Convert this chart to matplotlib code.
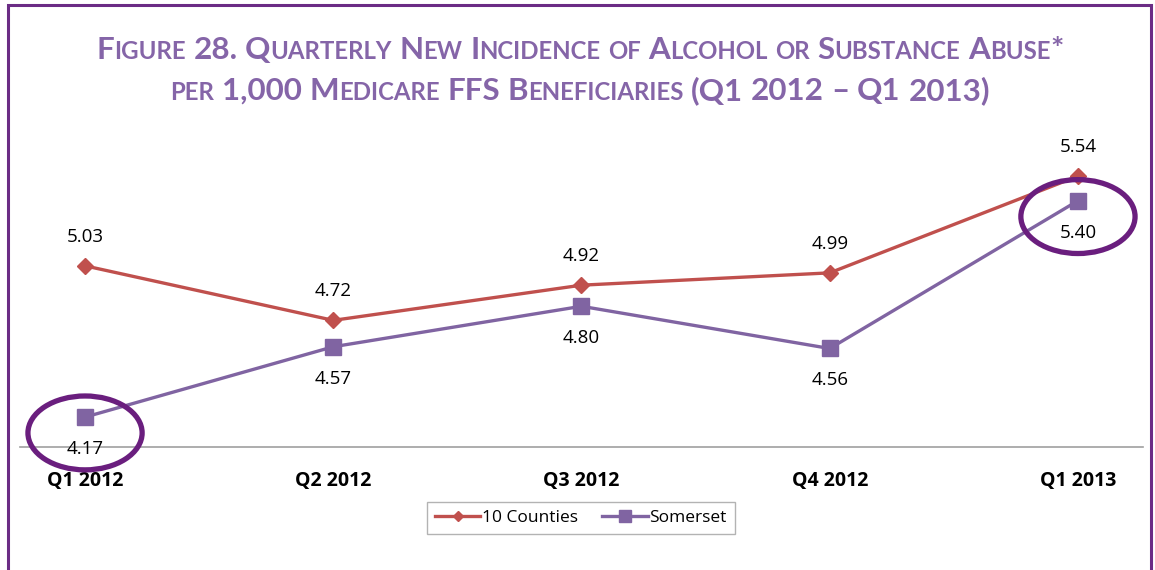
import numpy as np
import matplotlib.pyplot as plt
from matplotlib.patches import Ellipse, Rectangle

quarters = ['Q1 2012', 'Q2 2012', 'Q3 2012', 'Q4 2012', 'Q1 2013']
counties = [5.03, 4.72, 4.92, 4.99, 5.54]
somerset = [4.17, 4.57, 4.80, 4.56, 5.40]
circled = [0, 4]  # Somerset points that are ringed
title_lines = ['Figure 28. Quarterly New Incidence of Alcohol or Substance Abuse*',
               'per 1,000 Medicare FFS Beneficiaries (Q1 2012 \u2013 Q1 2013)']

RED = '#C0504D'
PURPLE = '#8064A2'
RING = '#6A1E7E'
TITLE = '#8565A8'
W, H = 1155, 570
TFONT = ['Lato', 'DejaVu Sans']
NFONT = ['Open Sans', 'DejaVu Sans']


def small_caps(fig, text, base_y, big, small, cx):
    # draw a line of text in small caps, segment by segment, centred on cx
    r = fig.canvas.get_renderer()

    def width(s, size):
        t = fig.text(0, 0, s, fontsize=size, fontweight='bold', family=TFONT)
        w = t.get_window_extent(r).width
        t.remove()
        return w

    space = width('I I', big) - width('II', big)
    placed = []
    xpos = 0
    for word in text.split(' '):
        segs = []
        for ch in word:
            low = ch.islower()
            if segs and segs[-1][1] == low:
                segs[-1][0] += ch
            else:
                segs.append([ch, low])
        for s, low in segs:
            t = fig.text(0, 1 - base_y / H, s.upper(), fontsize=small if low else big,
                         fontweight='bold', family=TFONT, color=TITLE, va='baseline')
            placed.append((t, xpos))
            xpos += t.get_window_extent(r).width
        xpos += space
    xpos -= space
    x0 = cx - xpos / 2
    for t, off in placed:
        t.set_x((x0 + off) / W)


fig = plt.figure(figsize=(W / 100, H / 100), dpi=100)
ax = fig.add_axes([20 / W, 1 - 447 / H, 1123 / W, 317 / H])

x = np.arange(len(quarters))
ax.plot(x, counties, color=RED, lw=2.4, marker='D', ms=8, label='10 Counties', zorder=3)
ax.plot(x, somerset, color=PURPLE, lw=2.4, marker='s', ms=12, label='Somerset', zorder=3)

for xi, v in zip(x, counties):
    ax.annotate(f'{v:.2f}', (xi, v), xytext=(0, 21), textcoords='offset points',
                ha='center', va='center', fontsize=13.5, family=NFONT)
for xi, v in zip(x, somerset):
    ax.annotate(f'{v:.2f}', (xi, v), xytext=(0, -23), textcoords='offset points',
                ha='center', va='center', fontsize=13.5, family=NFONT)

for i in circled:
    ax.add_patch(Ellipse((x[i], somerset[i] - 0.09), 0.46, 0.42, fill=False,
                         edgecolor=RING, lw=3.8, clip_on=False, zorder=5))

ax.set_xlim(-0.262, len(quarters) - 1 + 0.262)
ax.set_ylim(4.0, 4.0 + 317 / 175.9)
ax.set_xticks(x)
ax.set_xticklabels(quarters, fontsize=14, fontweight='bold', family=NFONT)
ax.set_yticks([])
ax.tick_params(axis='x', length=0, pad=17)
for s in ['top', 'right', 'left']:
    ax.spines[s].set_visible(False)
ax.spines['bottom'].set_color('#A0A0A0')
ax.spines['bottom'].set_linewidth(1.2)

leg = fig.legend(loc='center', bbox_to_anchor=(581 / W, 1 - 518 / H), ncol=2,
                 prop={'family': NFONT, 'size': 12.5}, fancybox=False,
                 edgecolor='#A0A0A0', handlelength=2.6, handletextpad=0.1,
                 columnspacing=1.4, borderpad=0.45, markerscale=0.7)
leg.get_frame().set_linewidth(1.0)

fig.add_artist(Rectangle((8 / W, -0.1), 1143 / W, 1.1 - 5 / H, transform=fig.transFigure,
                         fill=False, edgecolor='#6B2C85', lw=2.2, clip_on=False))

small_caps(fig, title_lines[0], 59, 22.6, 17.3, 580)
small_caps(fig, title_lines[1], 100, 22.6, 17.3, 580)

fig.savefig('out.png', dpi=100)
